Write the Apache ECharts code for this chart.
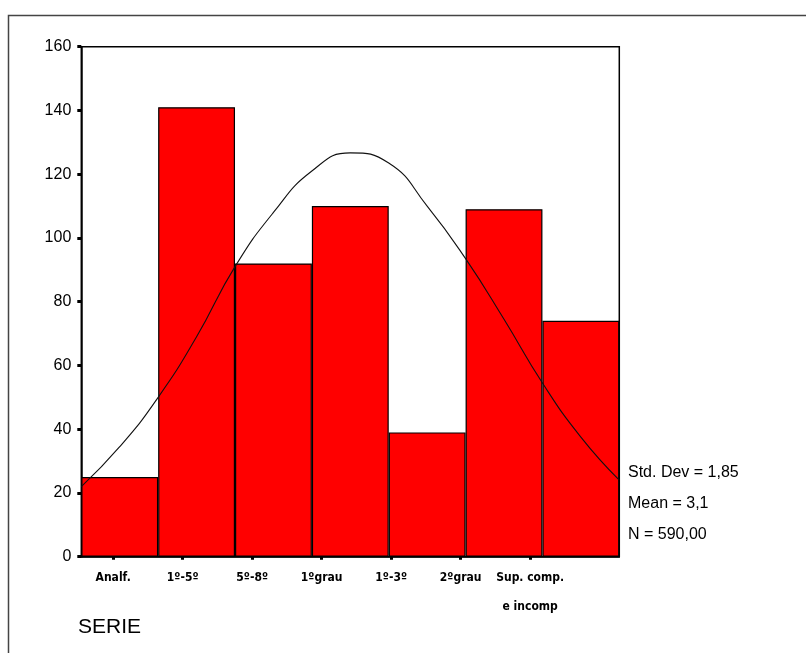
<!DOCTYPE html>
<html>
<head>
<meta charset="utf-8">
<script src="https://cdn.jsdelivr.net/npm/echarts@6/dist/echarts.min.js"></script>
<style>
html,body{margin:0;padding:0;background:#fff;}
#chart{width:806px;height:653px;}
</style>
</head>
<body>
<div id="chart"></div>
<script>
// ---- data ----
const categories = ['Analf.', '1º-5º', '5º-8º', '1ºgrau', '1º-3º', '2ºgrau', 'Sup. comp.\ne incomp'];
const counts = [25, 141, 92, 110, 39, 109, 74];
// normal curve (x in category units, 0 = first bar centre)
const curveX = [-0.5, 0, 0.5, 1, 1.5, 2, 2.5, 3, 3.5, 4, 4.5, 5, 5.5, 6, 6.5];
const curveY = [22, 34.5, 50, 69, 91, 108, 121, 126.7, 123.5, 110, 93.5, 74.5, 54.5, 37.5, 24];
const yTicks = [0, 20, 40, 60, 80, 100, 120, 140, 160];
const statsLines = ['Std. Dev = 1,85', 'Mean = 3,1', 'N = 590,00'];
const axisTitle = 'SERIE';

const chart = echarts.init(document.getElementById('chart'));
const font = '"Liberation Sans", Arial, sans-serif';

const option = {
  animation: false,
  backgroundColor: '#fff',
  grid: [
    { left: 81.3, top: 46.7, width: 538, height: 510, show: true, borderColor: '#000', borderWidth: 1.5, backgroundColor: 'transparent' },
    { left: 78.4, top: 46.7, width: 486.5, height: 510, show: false }
  ],
  xAxis: [
    { type: 'category', gridIndex: 0, data: categories, boundaryGap: true,
      axisLine: { lineStyle: { color: '#000', width: 1.5 } },
      axisTick: { show: false }, axisLabel: { show: false }, splitLine: { show: false } },
    { type: 'value', gridIndex: 0, min: -0.5, max: 6.5, show: false },
    { type: 'category', gridIndex: 1, data: categories, boundaryGap: true, position: 'bottom',
      axisLine: { show: false },
      axisTick: { show: true, alignWithLabel: true, length: 3, lineStyle: { color: '#000', width: 3 } },
      axisLabel: { show: true, interval: 0, margin: 7, color: '#000',
        fontFamily: '"DejaVu Sans Condensed", "DejaVu Sans", sans-serif', fontWeight: 'bold',
        fontSize: 12, lineHeight: 29 },
      splitLine: { show: false } }
  ],
  yAxis: [
    { type: 'value', gridIndex: 0, min: 0, max: 160, interval: 20,
      axisLine: { show: true, onZero: false, lineStyle: { color: '#000', width: 1.5 } },
      axisTick: { show: true, length: 4, lineStyle: { color: '#000', width: 3 } },
      axisLabel: { color: '#000', fontFamily: font, fontSize: 16, margin: 10,
        formatter: v => (yTicks.indexOf(v) >= 0 ? String(v) : '') },
      splitLine: { show: false } },
    { type: 'value', gridIndex: 1, min: 0, max: 160, show: false }
  ],
  series: [
    { type: 'bar', xAxisIndex: 0, yAxisIndex: 0, data: counts, barCategoryGap: 0,
      itemStyle: { color: '#ff0000', borderColor: '#000', borderWidth: 1.2 } },
    { type: 'line', xAxisIndex: 1, yAxisIndex: 0, data: curveX.map((x, i) => [x, curveY[i]]),
      smooth: 0.5, showSymbol: false, symbol: 'none', z: 5,
      lineStyle: { color: '#111', width: 1.1 } }
  ],
  graphic: [
    { type: 'rect', left: 6, top: 13, shape: { width: 820, height: 660 }, silent: true,
      style: { fill: 'none', stroke: '#444', lineWidth: 1.5 } },
    { type: 'text', left: 628, top: 465, style: { text: statsLines[0], fill: '#000', font: '16px ' + font } },
    { type: 'text', left: 628, top: 496, style: { text: statsLines[1], fill: '#000', font: '16px ' + font } },
    { type: 'text', left: 628, top: 527, style: { text: statsLines[2], fill: '#000', font: '16px ' + font } },
    { type: 'text', left: 78, top: 617, style: { text: axisTitle, fill: '#000', font: '21px ' + font } }
  ]
};
chart.setOption(option);
</script>
</body>
</html>
